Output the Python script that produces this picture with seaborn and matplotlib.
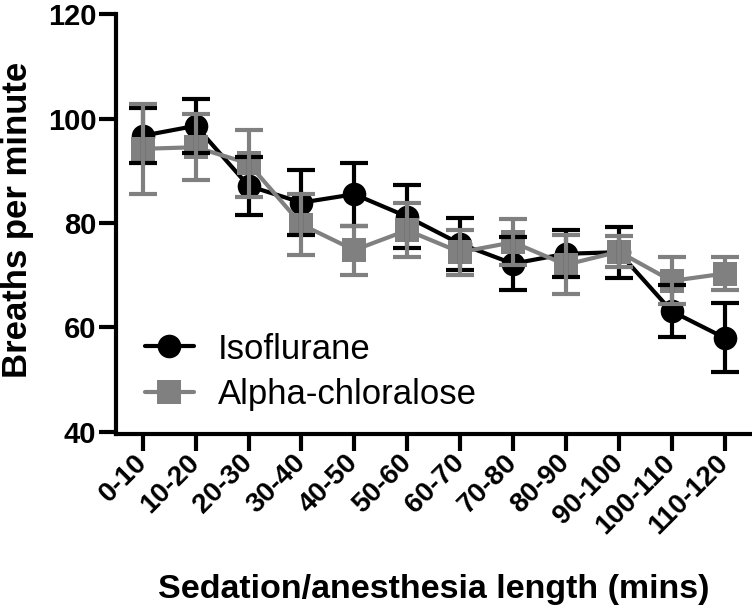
import numpy as np
import pandas as pd
import matplotlib
matplotlib.use('Agg')
import matplotlib.pyplot as plt
import seaborn as sns

# Breathing rate per 10-min bin, mean +/- error
bins = ['0-10', '10-20', '20-30', '30-40', '40-50', '50-60',
        '60-70', '70-80', '80-90', '90-100', '100-110', '110-120']
iso_mean = [96.7, 98.6, 87.1, 83.9, 85.5, 81.2, 76.0, 72.2, 74.1, 74.4, 63.1, 58.0]
iso_err = [5.3, 5.2, 5.6, 6.3, 6.0, 6.0, 5.0, 5.1, 4.5, 4.9, 5.0, 6.6]
alpha_mean = [94.2, 94.5, 91.4, 79.7, 74.8, 78.6, 74.4, 76.3, 72.0, 74.5, 68.9, 70.3]
alpha_err = [8.6, 6.3, 6.4, 5.9, 4.7, 5.2, 4.3, 4.4, 5.6, 3.0, 4.5, 3.2]

groups = ['Isoflurane', 'Alpha-chloralose']
colors = {'Isoflurane': '#000000', 'Alpha-chloralose': '#808080'}

df = pd.concat([
    pd.DataFrame({'pos': np.arange(len(bins)), 'bin': bins, 'mean': iso_mean,
                  'err': iso_err, 'group': 'Isoflurane'}),
    pd.DataFrame({'pos': np.arange(len(bins)), 'bin': bins, 'mean': alpha_mean,
                  'err': alpha_err, 'group': 'Alpha-chloralose'}),
])

sns.set_style('ticks')
plt.rcParams['font.family'] = ['Liberation Sans', 'DejaVu Sans']
for k in ['text.color', 'axes.labelcolor', 'xtick.color', 'ytick.color', 'axes.edgecolor']:
    plt.rcParams[k] = 'black'

fig = plt.figure(figsize=(7.52, 6.12), dpi=100)
ax = fig.add_axes([0.154, 0.291, 0.846, 0.686])

sns.lineplot(data=df, x='pos', y='mean', hue='group', style='group',
             hue_order=groups, style_order=groups, palette=colors,
             markers={'Isoflurane': 'o', 'Alpha-chloralose': 's'}, dashes=False,
             markersize=17, markeredgewidth=0, linewidth=3, ax=ax)

for i, g in enumerate(groups):
    sub = df[df['group'] == g]
    ax.errorbar(sub['pos'], sub['mean'], yerr=sub['err'], fmt='none',
                ecolor=colors[g], elinewidth=3, capsize=10, capthick=3,
                zorder=3 + i * 0.1)

# grey series sits on top of black markers
for ln in ax.lines:
    if ln.get_color() == '#808080':
        ln.set_zorder(2.5)

ax.set_xlim(-0.51, 11.52)
ax.set_ylim(39.6, 120)
ax.set_yticks([40, 60, 80, 100, 120])
ax.set_xticks(np.arange(len(bins)))
ax.set_xticklabels(bins, rotation=45, ha='right', va='center', rotation_mode='anchor')
ax.spines['top'].set_visible(False)
ax.spines['right'].set_visible(False)
for s in ['left', 'bottom']:
    ax.spines[s].set_linewidth(3)
ax.tick_params(axis='both', width=3, length=12, labelsize=21, pad=2)
ax.tick_params(axis='x', labelsize=20, pad=6)
for lab in ax.get_xticklabels() + ax.get_yticklabels():
    lab.set_fontweight('bold')

ax.set_xlabel('Sedation/anesthesia length (mins)', fontsize=24.5, fontweight='bold')
ax.set_ylabel('Breaths per minute', fontsize=25, fontweight='bold')
ax.xaxis.set_label_coords(0.5, -0.333)
ax.yaxis.set_label_coords(-0.128, 0.51)

leg = ax.legend(loc='center left', bbox_to_anchor=(0.046, 0.148), frameon=False,
                fontsize=25, handlelength=1.4, handletextpad=0.7,
                labelspacing=0.36, borderpad=0, borderaxespad=0)
for h in leg.legend_handles:
    h.set_linewidth(3)

fig.savefig('out.png', dpi=100)
